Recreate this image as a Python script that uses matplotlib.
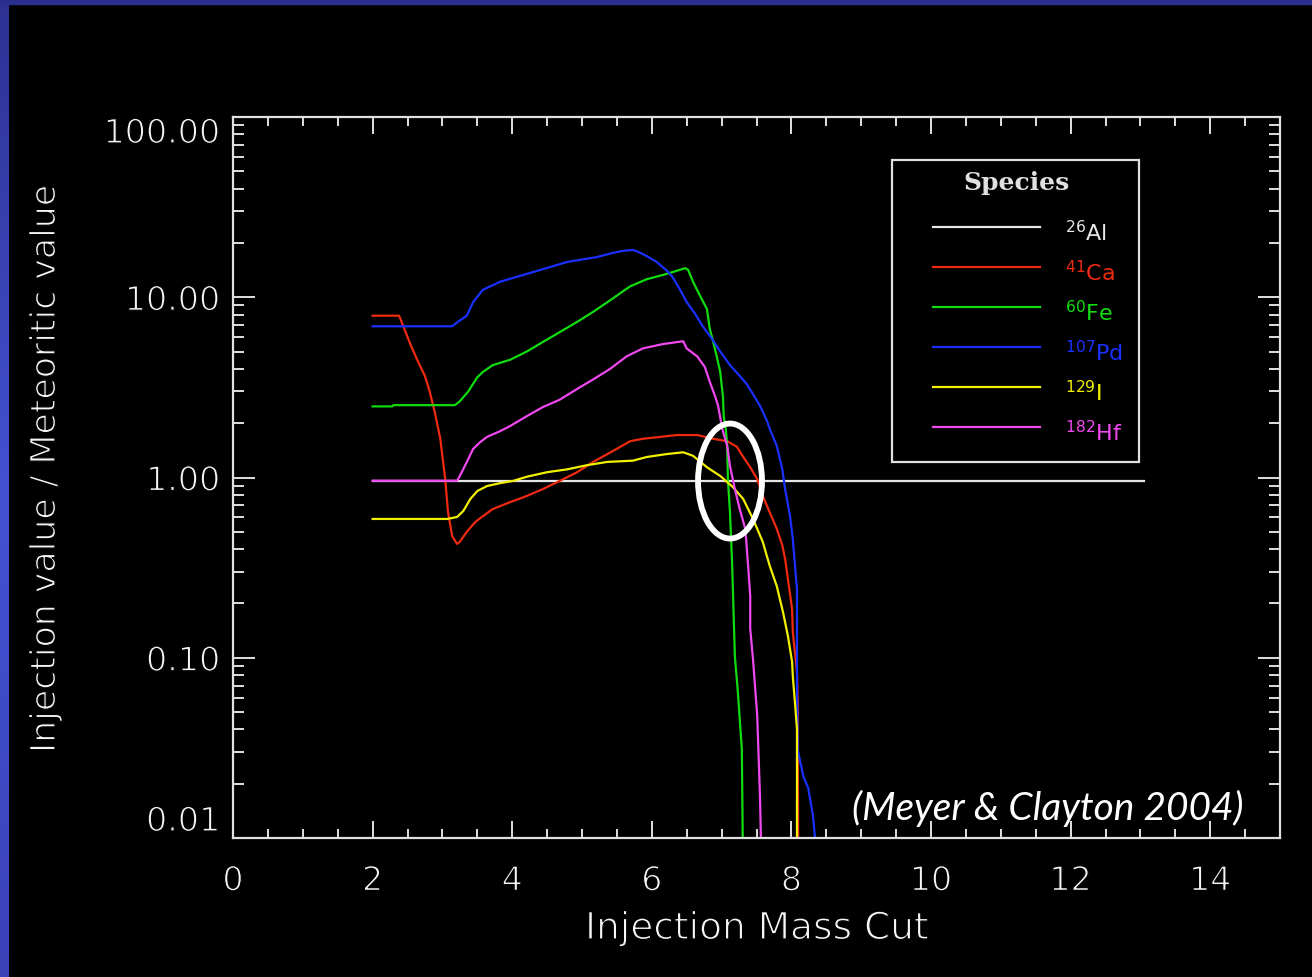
import matplotlib
matplotlib.use('Agg')
import matplotlib.pyplot as plt
import matplotlib.patheffects as pe
import numpy as np
from matplotlib.patches import Ellipse, Rectangle
from matplotlib.colors import LinearSegmentedColormap
from matplotlib.ticker import FixedLocator, LogLocator, MultipleLocator, FuncFormatter, NullFormatter

# injection mass cut vs. (injected / meteoritic) abundance ratio
al26_x = [2.0, 13.05]
al26_y = [0.96, 0.96]

ca41_x = [2.0, 2.38, 2.44, 2.54, 2.65, 2.75, 2.82, 2.89, 2.97, 3.04, 3.08, 3.14, 3.21, 3.25,
          3.35, 3.47, 3.58, 3.72, 3.97, 4.21, 4.44, 4.68, 4.93, 5.16, 5.44, 5.69, 5.87, 6.12,
          6.36, 6.65, 6.88, 7.08, 7.22, 7.31, 7.41, 7.51, 7.59, 7.69, 7.79, 7.87, 7.91, 7.95,
          8.01, 8.02, 8.05, 8.08, 8.09, 8.09, 8.10]
ca41_y = [7.9, 7.9, 6.9, 5.5, 4.4, 3.66, 2.98, 2.31, 1.64, 0.98, 0.644, 0.473, 0.428, 0.44,
          0.50, 0.566, 0.61, 0.668, 0.73, 0.79, 0.863, 0.957, 1.07, 1.22, 1.40, 1.59, 1.64, 1.68,
          1.72, 1.72, 1.64, 1.59, 1.48, 1.30, 1.14, 0.98, 0.79, 0.64, 0.52, 0.42, 0.353, 0.274,
          0.186, 0.139, 0.108, 0.083, 0.057, 0.040, 0.005]

fe60_x = [2.0, 2.28, 2.30, 3.18, 3.25, 3.37, 3.50, 3.58, 3.72, 3.97, 4.21, 4.44, 4.68, 4.93,
          5.16, 5.40, 5.69, 5.93, 6.16, 6.30, 6.48, 6.52, 6.59, 6.69, 6.79, 6.83, 6.88, 6.93,
          6.98, 7.02, 7.03, 7.06, 7.08, 7.09, 7.12, 7.15, 7.19, 7.23, 7.29, 7.31]
fe60_y = [2.48, 2.48, 2.52, 2.52, 2.65, 3.0, 3.6, 3.85, 4.2, 4.5, 5.0, 5.65, 6.4, 7.3,
          8.3, 9.6, 11.5, 12.6, 13.3, 13.8, 14.5, 14.2, 12.2, 10.2, 8.6, 6.7, 5.65, 4.7,
          3.85, 2.8, 2.19, 1.86, 1.50, 0.98, 0.644, 0.34, 0.102, 0.067, 0.031, 0.005]

pd107_x = [2.0, 3.14, 3.22, 3.35, 3.44, 3.58, 3.83, 4.30, 4.79, 5.21, 5.44, 5.59, 5.73, 5.80,
           5.93, 6.07, 6.22, 6.30, 6.40, 6.50, 6.62, 6.73, 6.86, 6.98, 7.12, 7.26, 7.36, 7.45,
           7.55, 7.65, 7.69, 7.79, 7.87, 7.91, 7.98, 8.02, 8.08, 8.08, 8.09, 8.17, 8.24, 8.31,
           8.36]
pd107_y = [6.9, 6.9, 7.3, 7.9, 9.4, 11.0, 12.2, 13.8, 15.7, 16.7, 17.6, 18.1, 18.3, 17.9,
           16.9, 15.7, 14.0, 12.9, 11.1, 9.4, 8.1, 6.9, 5.9, 5.0, 4.2, 3.66, 3.3, 2.9,
           2.5, 2.06, 1.86, 1.50, 1.11, 0.863, 0.611, 0.456, 0.24, 0.073, 0.031, 0.022, 0.019, 0.0132,
           0.008]

i129_x = [2.0, 3.07, 3.21, 3.30, 3.40, 3.50, 3.64, 3.83, 4.01, 4.21, 4.50, 4.79, 5.07, 5.36,
          5.73, 5.93, 6.22, 6.45, 6.59, 6.79, 6.98, 7.16, 7.31, 7.45, 7.59, 7.69, 7.79, 7.88,
          7.95, 8.01, 8.02, 8.05, 8.08, 8.08]
i129_y = [0.589, 0.589, 0.604, 0.652, 0.76, 0.841, 0.897, 0.931, 0.957, 1.01, 1.07, 1.11, 1.17, 1.22,
          1.24, 1.30, 1.35, 1.38, 1.32, 1.14, 1.02, 0.886, 0.76, 0.589, 0.439, 0.323, 0.25, 0.179,
          0.132, 0.095, 0.079, 0.057, 0.040, 0.005]

hf182_x = [2.0, 3.21, 3.25, 3.35, 3.44, 3.54, 3.64, 3.83, 3.97, 4.21, 4.44, 4.68, 4.93, 5.16,
           5.40, 5.64, 5.87, 6.16, 6.45, 6.50, 6.65, 6.76, 6.83, 6.91, 6.95, 7.01, 7.08, 7.12,
           7.19, 7.26, 7.34, 7.38, 7.41, 7.41, 7.45, 7.51, 7.55, 7.58]
hf182_y = [0.96, 0.96, 1.02, 1.22, 1.44, 1.57, 1.68, 1.81, 1.93, 2.19, 2.46, 2.7, 3.1, 3.5,
           4.0, 4.7, 5.2, 5.5, 5.7, 5.2, 4.7, 4.1, 3.4, 2.8, 2.5, 1.86, 1.50, 1.16,
           0.863, 0.668, 0.518, 0.323, 0.22, 0.145, 0.098, 0.048, 0.017, 0.005]

species = [r'$^{26}$Al', r'$^{41}$Ca', r'$^{60}$Fe', r'$^{107}$Pd', r'$^{129}$I', r'$^{182}$Hf']
colors = ['#e6e6e6', '#f02a10', '#10dc10', '#1a30ff', '#f0f000', '#f048f0']
series = [(al26_x, al26_y), (ca41_x, ca41_y), (fe60_x, fe60_y),
          (pd107_x, pd107_y), (i129_x, i129_y), (hf182_x, hf182_y)]

fg = '#e0e0e0'
txt = '#f6f6f6'
W, H = 1312, 978
# eat into the glyph outlines so the axis text looks like thin vector lettering
thin = [pe.Normal(), pe.Stroke(linewidth=0.9, foreground='black')]

fig = plt.figure(figsize=(W / 100, H / 100), dpi=100, facecolor='black')

# slide frame: blue strips along the top and left edge
fig.patches.append(Rectangle((0, 1 - 5 / H), 1, 5 / H, transform=fig.transFigure,
                             color='#2a2e8c', zorder=0))
bar = fig.add_axes([0, 0, 9 / W, 1 - 5 / H])
cmap = LinearSegmentedColormap.from_list('edge', ['#2c3192', '#4452d2', '#3a42b8'])
bar.imshow(np.linspace(0, 1, 256)[:, None], aspect='auto', cmap=cmap)
bar.axis('off')

ax = fig.add_axes([233 / W, 139 / H, 1047 / W, 721 / H])
ax.set_facecolor('black')

for (x, y), c in zip(series, colors):
    ax.plot(x, y, color=c, lw=1.6)

ax.set_yscale('log')
ax.set_xlim(0, 15)
ax.set_ylim(0.01, 100)

for s in ax.spines.values():
    s.set_color(fg)
    s.set_linewidth(1.6)

ax.xaxis.set_major_locator(MultipleLocator(2))
ax.xaxis.set_minor_locator(MultipleLocator(0.5))
ax.yaxis.set_major_locator(FixedLocator([0.01, 0.1, 1, 10, 100]))
ax.yaxis.set_minor_locator(LogLocator(base=10, subs=range(2, 10)))
ax.yaxis.set_major_formatter(FuncFormatter(lambda v, p: f'{v:.2f}'))
ax.yaxis.set_minor_formatter(NullFormatter())

ax.tick_params(which='both', direction='in', top=True, right=True, color=fg, width=1.4)
ax.tick_params(axis='x', which='major', length=12, pad=19, labelsize=24, labelcolor=txt)
ax.tick_params(axis='x', which='minor', length=6.5)
ax.tick_params(axis='y', which='major', length=16, pad=9, labelsize=24, labelcolor=txt)
ax.tick_params(axis='y', which='minor', length=8)

ylabels = ax.yaxis.get_majorticklabels()
ylabels[0].set_va('bottom')
ylabels[-1].set_va('top')
for lab in ax.xaxis.get_majorticklabels() + ylabels:
    lab.set_path_effects(thin)

fig.text((233 + 1047 / 2) / W, 1 - 930 / H, 'Injection Mass Cut', color=txt, fontsize=27,
         ha='center', va='center', path_effects=thin)
fig.text(45 / W, 1 - 470 / H, 'Injection value / Meteoritic value', color=txt, fontsize=25,
         ha='center', va='center', rotation=90, path_effects=thin)

# legend box
ax.add_patch(Rectangle((0.6294, 0.5215), 0.2359, 0.4189, transform=ax.transAxes,
                       fill=False, ec=fg, lw=1.6, zorder=4))
ax.text(0.7488, 0.9098, 'Species', transform=ax.transAxes, color=fg, fontsize=18,
        family='DejaVu Serif', weight='bold', ha='center', va='center')
row_y = [0.8474, 0.7920, 0.7365, 0.6810, 0.6255, 0.5700]
for lab, c, ry in zip(species, colors, row_y):
    ax.plot([0.6686, 0.7708], [ry, ry], color=c, lw=1.6, transform=ax.transAxes)
    ax.text(0.7947, ry - 0.006, lab, transform=ax.transAxes, color=c, fontsize=16,
            ha='left', va='center')

# highlight where the curves cross unity
ax.add_patch(Ellipse((0.4747, 0.4951), 0.0611, 0.1595, transform=ax.transAxes,
                     fill=False, ec='white', lw=4.2, zorder=5))

ax.text(0.9647, 0.043, '(Meyer & Clayton 2004)', transform=ax.transAxes, color='white',
        fontsize=28, style='italic', family=['Lato', 'Open Sans', 'DejaVu Sans'],
        ha='right', va='center')

fig.savefig('out.png', dpi=100, facecolor='black')
